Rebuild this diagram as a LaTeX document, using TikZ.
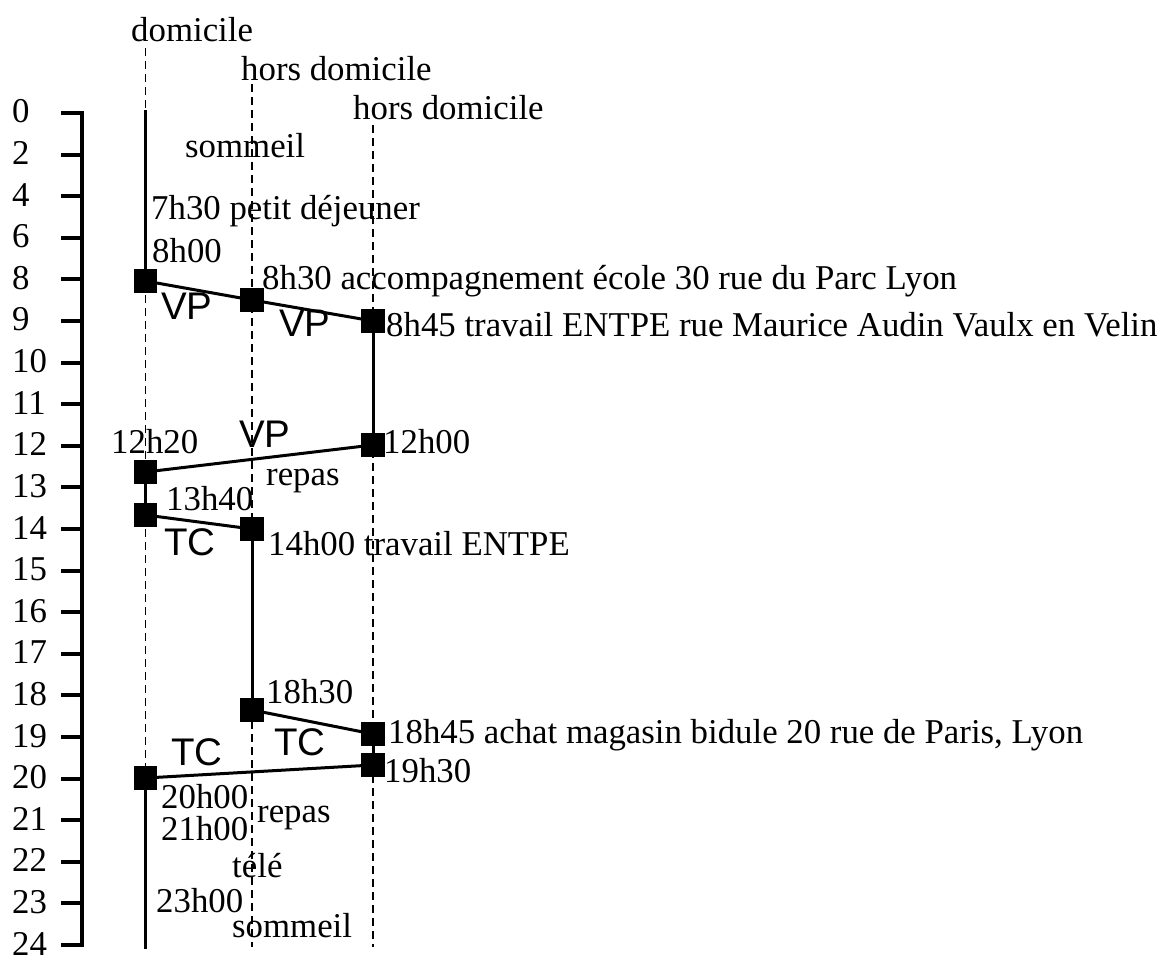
\documentclass[tikz,border=0pt]{standalone}
\usepackage{fontspec}
\setmainfont{Liberation Serif}
\newfontfamily\sansf{Liberation Sans}
\begin{document}
\begin{tikzpicture}[x=1pt,y=-1pt,
  txt/.style={anchor=base west,inner sep=0pt,font=\fontsize{34.8}{40}\selectfont},
  mode/.style={anchor=base west,inner sep=0pt,font=\sansf\fontsize{38.5}{44}\selectfont},
  sq/.style={rectangle,fill=black,minimum size=23.5pt,inner sep=0pt},
  link/.style={line width=3pt},
  axisline/.style={line width=4pt},
  guide/.style={line width=1.1pt,dash pattern=on 8pt off 5pt}]
\useasboundingbox (0,0) rectangle (1164,957);
% axis
\draw[axisline] (61,113) -- (82,113) -- (82,945) -- (61,945);
\foreach \i/\l in {0/0,1/2,2/4,3/6,4/8,5/9,6/10,7/11,8/12,9/13,10/14,11/15,12/16,13/17,14/18,15/19,16/20,17/21,18/22,19/23,20/24}{
  \pgfmathsetmacro\yy{113+41.6*\i}
  \draw[axisline] (61,\yy) -- (82,\yy);
  \node[txt] (ax\i) at (12,\yy+10) {\l};
}
% column headers and guides
\node[txt] (hdom) at (131,42) {domicile};
\node[txt] (hors1) at (241,81) {hors domicile};
\node[txt] (hors2) at (353,120) {hors domicile};
\coordinate (g0t) at (145.5,48);
\coordinate (g0b) at (145.5,947);
\coordinate (g1t) at (252,84);
\coordinate (g1b) at (252,947);
\coordinate (g2t) at (373,125);
\coordinate (g2b) at (373,947);
\draw[guide] (g0t) -- (g0b);
\draw[guide] (g1t) -- (g1b);
\draw[guide] (g2t) -- (g2b);
% stops
\coordinate (top) at (145.5,110);
\coordinate (bot) at (145.5,949);
\node[sq] (A) at (145.5,281) {};
\node[sq] (B) at (252,300) {};
\node[sq] (C) at (373,321) {};
\node[sq] (D) at (373,445) {};
\node[sq] (E) at (145.5,472) {};
\node[sq] (F) at (145.5,515) {};
\node[sq] (G) at (252,529) {};
\node[sq] (H) at (252,710) {};
\node[sq] (I) at (373,734) {};
\node[sq] (J) at (373,765) {};
\node[sq] (K) at (145.5,778) {};
% connectors
\draw[link] (top) -- (A.center);
\draw[link] (A.center) -- (B.center);
\draw[link] (B.center) -- (C.center);
\draw[link] (C.center) -- (D.center);
\draw[link] (D.center) -- (E.center);
\draw[link] (E.center) -- (F.center);
\draw[link] (F.center) -- (G.center);
\draw[link] (G.center) -- (H.center);
\draw[link] (H.center) -- (I.center);
\draw[link] (I.center) -- (J.center);
\draw[link] (J.center) -- (K.center);
\draw[link] (K.center) -- (bot);
% mode labels
\node[mode] (vp1) at (161,320) {VP};
\node[mode] (vp2) at (279,337) {VP};
\node[mode] (vp3) at (239,447) {VP};
\node[mode] (tc1) at (164,555) {TC};
\node[mode] (tc2) at (274,755) {TC};
\node[mode] (tc3) at (171,765) {TC};
% texts
\node[txt] (t1) at (185,158) {sommeil};
\node[txt] (t2) at (151,220) {7h30 petit déjeuner};
\node[txt] (t3) at (152,263) {8h00};
\node[txt] (t4) at (262,290) {8h30 accompagnement école 30 rue du Parc Lyon};
\node[txt] (t5) at (386,337) {8h45 travail ENTPE rue Maurice Audin Vaulx en Velin};
\node[txt] (t6) at (383,453) {12h00};
\node[txt] (t7) at (111,453) {12h20};
\node[txt] (t8) at (266,485) {repas};
\node[txt] (t9) at (166,510) {13h40};
\node[txt] (t10) at (268,555) {14h00 travail ENTPE};
\node[txt] (t11) at (266,703) {18h30};
\node[txt] (t12) at (388,743) {18h45 achat magasin bidule 20 rue de Paris, Lyon};
\node[txt] (t13) at (384,782) {19h30};
\node[txt] (t14) at (161,808) {20h00};
\node[txt] (t15) at (257,822) {repas};
\node[txt] (t16) at (161,840) {21h00};
\node[txt] (t17) at (232,877) {télé};
\node[txt] (t18) at (156,912) {23h00};
\node[txt] (t19) at (232,937) {sommeil};
\end{tikzpicture}
\end{document}
